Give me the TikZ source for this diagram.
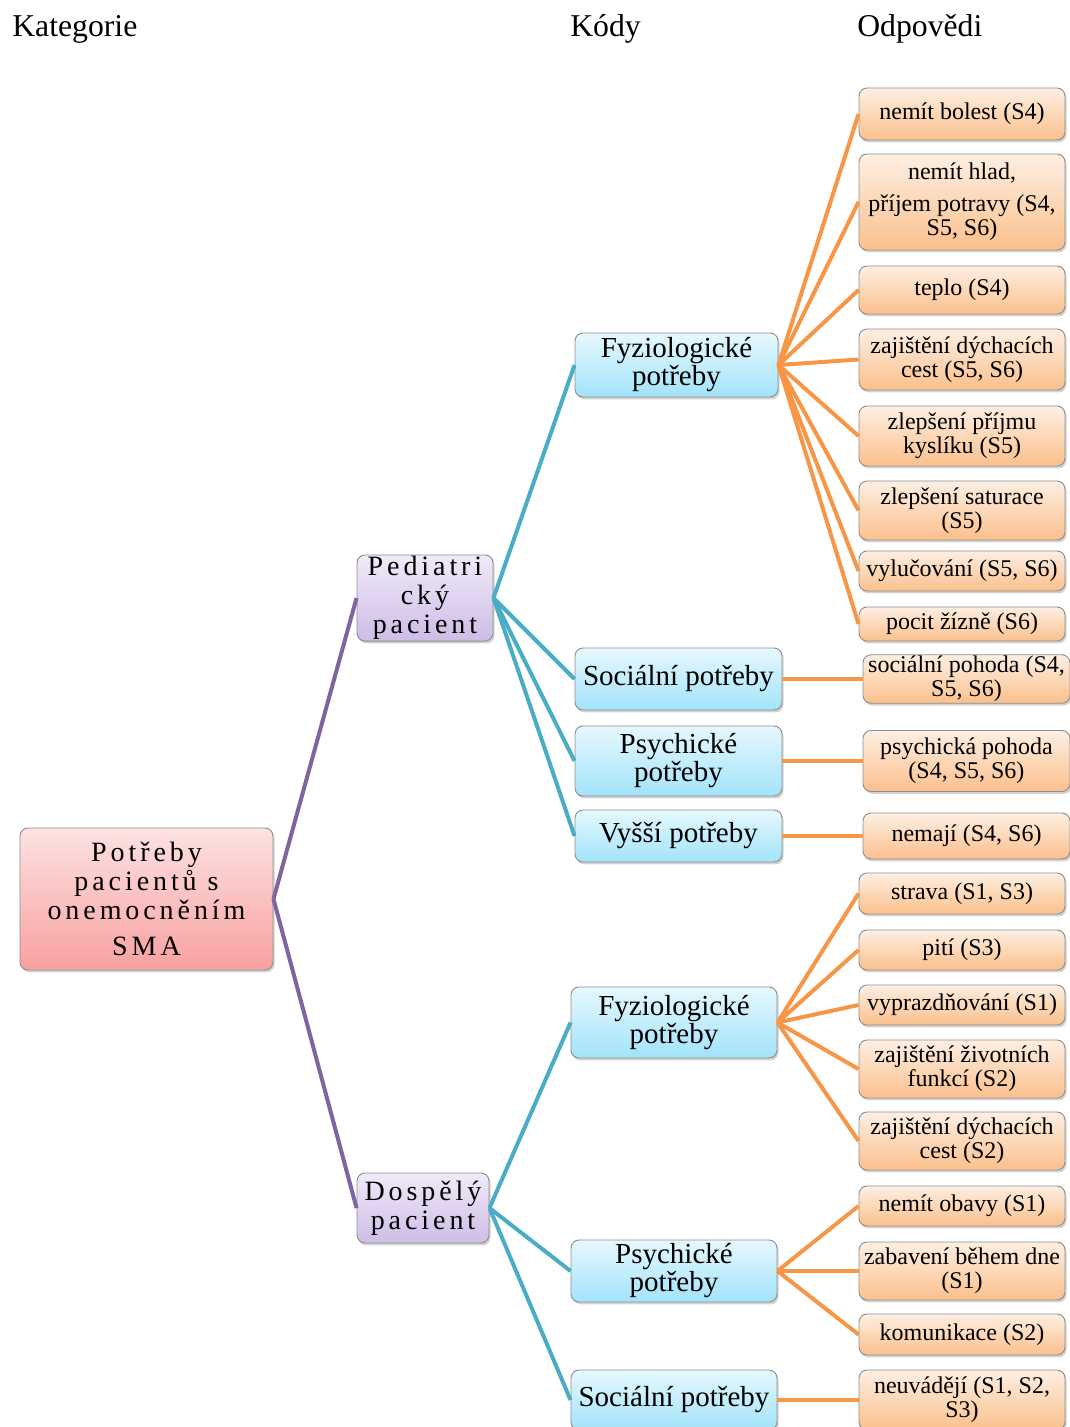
\documentclass[tikz,border=0pt]{standalone}
\usepackage{fontspec}
\setmainfont{Liberation Serif}
\newfontfamily\spacedfont[LetterSpace=14]{Liberation Serif}
\usetikzlibrary{shadows}
\definecolor{cpurple}{HTML}{8064A2}
\definecolor{cteal}{HTML}{4BACC6}
\definecolor{corange}{HTML}{F79646}
\definecolor{rootT}{HTML}{FDE2E2}
\definecolor{rootB}{HTML}{F9A0A0}
\definecolor{purT}{HTML}{F0EAF8}
\definecolor{purB}{HTML}{CDBDE6}
\definecolor{bluT}{HTML}{E6F8FE}
\definecolor{bluB}{HTML}{A2E3FA}
\definecolor{oraT}{HTML}{FDEFE3}
\definecolor{oraB}{HTML}{FBC08C}
\definecolor{bordergray}{HTML}{8E8E8E}
\tikzset{
  box/.style={draw=bordergray, line width=0.7pt, rounded corners=6pt, align=center, inner sep=1pt,
    drop shadow={opacity=0.35, shadow xshift=1.2pt, shadow yshift=-1.8pt, fill=gray}},
  rootbox/.style={box, top color=rootT, bottom color=rootB, minimum width=189.75pt, minimum height=106.5pt,
    font=\spacedfont\fontsize{21}{21.75}\selectfont},
  purbox/.style={box, top color=purT, bottom color=purB, minimum width=102pt,
    font=\spacedfont\fontsize{21}{21.75}\selectfont},
  blubox/.style={box, top color=bluT, bottom color=bluB,
    font=\fontsize{21.75}{21}\selectfont},
  leafbox/.style={box, top color=oraT, bottom color=oraB, minimum width=154.5pt,
    font=\fontsize{18}{18}\selectfont},
  hdr/.style={anchor=base west, inner sep=0pt, font=\fontsize{23.8}{26}\selectfont},
  lpur/.style={draw=cpurple, line width=3pt},
  lteal/.style={draw=cteal, line width=3pt},
  lora/.style={draw=corange, line width=3pt},
}
\begin{document}
\begin{tikzpicture}[x=0.75pt, y=-0.75pt]
\useasboundingbox (0,0) rectangle (1070,1427);
% headers
\node[hdr] (h1) at (12,37) {Kategorie};
\node[hdr] (h2) at (570,37) {Kódy};
\node[hdr] (h3) at (857,37) {Odpovědi};
% root and categories
\node[rootbox] (root) at (146.5,899) {Potřeby\\pacientů s\\onemocněním\\[5pt]SMA};
\node[purbox, minimum height=63pt] (p1) at (425,598) {Pediatri\\cký\\pacient};
\node[purbox, minimum width=99pt, minimum height=52.5pt] (p2) at (423,1208) {Dospělý\\pacient};
% codes
\node[blubox, minimum width=152.25pt, minimum height=48pt] (b1) at (676.5,365) {Fyziologické\\potřeby};
\node[blubox, minimum width=155.25pt, minimum height=46.5pt] (b2) at (678.5,679) {Sociální potřeby};
\node[blubox, minimum width=155.25pt, minimum height=52.5pt] (b3) at (678.5,761) {Psychické\\potřeby};
\node[blubox, minimum width=155.25pt, minimum height=39pt] (b4) at (678.5,836) {Vyšší potřeby};
\node[blubox, minimum width=154.5pt, minimum height=53.25pt] (b5) at (674,1022.5) {Fyziologické\\potřeby};
\node[blubox, minimum width=154.5pt, minimum height=46.5pt] (b6) at (674,1271) {Psychické\\potřeby};
\node[blubox, minimum width=154.5pt, minimum height=45pt] (b7) at (674,1400) {Sociální potřeby};
% answers
\node[leafbox, minimum height=39pt] (l1) at (962,114) {nemít bolest (S4)};
\node[leafbox, minimum height=72pt] (l2) at (962,202) {nemít hlad,\\[6pt]příjem potravy (S4,\\S5, S6)};
\node[leafbox, minimum height=36pt] (l3) at (962,290) {teplo (S4)};
\node[leafbox, minimum height=45.75pt] (l4) at (962,359.5) {zajištění dýchacích\\cest (S5, S6)};
\node[leafbox, minimum height=45pt] (l5) at (962,436) {zlepšení příjmu\\kyslíku (S5)};
\node[leafbox, minimum height=44.25pt] (l6) at (962,510.5) {zlepšení saturace\\(S5)};
\node[leafbox, minimum height=30pt] (l7) at (962,571) {vylučování (S5, S6)};
\node[leafbox, minimum height=25.5pt] (l8) at (962,624) {pocit žízně (S6)};
\node[leafbox, minimum width=155.25pt, minimum height=33pt] (l9) at (966.5,679) {sociální pohoda (S4,\\S5, S6)};
\node[leafbox, minimum width=155.25pt, minimum height=45.75pt] (l10) at (966.5,761) {psychická pohoda\\(S4, S5, S6)};
\node[leafbox, minimum width=155.25pt, minimum height=34.5pt] (l11) at (966.5,836) {nemají (S4, S6)};
\node[leafbox, minimum height=30.75pt] (l12) at (962,893.5) {strava (S1, S3)};
\node[leafbox, minimum height=30pt] (l13) at (962,950) {pití (S3)};
\node[leafbox, minimum height=30pt] (l14) at (962,1005) {vyprazdňování (S1)};
\node[leafbox, minimum height=43.5pt] (l15) at (962,1069) {zajištění životních\\funkcí (S2)};
\node[leafbox, minimum height=43.5pt] (l16) at (962,1141) {zajištění dýchacích\\cest (S2)};
\node[leafbox, minimum height=30pt] (l17) at (962,1206) {nemít obavy (S1)};
\node[leafbox, minimum height=43.5pt] (l18) at (962,1271) {zabavení během dne\\(S1)};
\node[leafbox, minimum height=30.75pt] (l19) at (962,1334.5) {komunikace (S2)};
\node[leafbox, minimum height=45pt] (l20) at (962,1400) {neuvádějí (S1, S2,\\S3)};
% connectors
\draw[lpur] (root.east) -- (p1.west);
\draw[lpur] (root.east) -- (p2.west);
\foreach \b in {b1,b2,b3,b4} \draw[lteal] (p1.east) -- (\b.west);
\foreach \b in {b5,b6,b7} \draw[lteal] (p2.east) -- (\b.west);
\foreach \l in {l1,l2,l3,l4,l5,l6,l7,l8} \draw[lora] (b1.east) -- (\l.west);
\draw[lora] (b2.east) -- (l9.west);
\draw[lora] (b3.east) -- (l10.west);
\draw[lora] (b4.east) -- (l11.west);
\foreach \l in {l12,l13,l14,l15,l16} \draw[lora] (b5.east) -- (\l.west);
\foreach \l in {l17,l18,l19} \draw[lora] (b6.east) -- (\l.west);
\draw[lora] (b7.east) -- (l20.west);
\end{tikzpicture}
\end{document}
